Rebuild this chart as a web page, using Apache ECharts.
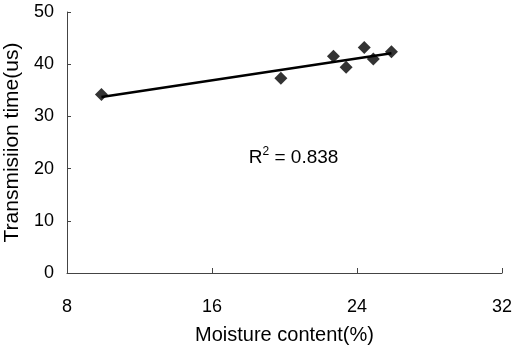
<!DOCTYPE html>
<html>
<head>
<meta charset="utf-8">
<script src="https://cdn.jsdelivr.net/npm/echarts@6/dist/echarts.min.js"></script>
<style>html,body{margin:0;padding:0;background:#fff}#c{width:514px;height:350px}</style>
</head>
<body>
<div id="c"></div>
<script>
const moisture = [9.9, 19.8, 22.7, 23.4, 24.4, 24.9, 25.9];
const transTime = [34.2, 37.3, 41.5, 39.4, 43.2, 41.0, 42.4];
const trendX = [9.9, 25.9];
const trendY = [33.7, 42.1];
const r2Label = '0.838';
const xTitle = 'Moisture content(%)';
const yTitle = 'Transmisiion time(us)';

const font = 'Liberation Sans, Arial, sans-serif';
const chart = echarts.init(document.getElementById('c'), null, {renderer: 'canvas'});
chart.setOption({
  animation: false,
  backgroundColor: '#fff',
  grid: {left: 67, right: 12, top: 12, bottom: 77, containLabel: false, outerBoundsMode: 'none'},
  xAxis: {
    type: 'value', min: 8, max: 32, interval: 8,
    name: xTitle, nameLocation: 'middle', nameGap: 52,
    nameTextStyle: {fontFamily: font, fontSize: 20, color: '#000'},
    axisLine: {show: true, onZero: false, lineStyle: {color: '#444', width: 1}},
    axisTick: {show: true, inside: true, length: 5, lineStyle: {color: '#444'}},
    axisLabel: {fontFamily: font, fontSize: 18, color: '#000', margin: 25},
    splitLine: {show: false}
  },
  yAxis: {
    type: 'value', min: 0, max: 50, interval: 10,
    name: yTitle, nameLocation: 'middle', nameGap: 34,
    nameTextStyle: {fontFamily: font, fontSize: 21, color: '#000'},
    axisLine: {show: true, lineStyle: {color: '#444', width: 1}},
    axisTick: {show: true, inside: true, length: 4, lineStyle: {color: '#444'}},
    axisLabel: {fontFamily: font, fontSize: 18, color: '#000', margin: 13},
    splitLine: {show: false}
  },
  series: [
    {
      type: 'line',
      data: trendX.map((x, i) => [x, trendY[i]]),
      symbol: 'none',
      lineStyle: {color: '#000', width: 2.5},
      z: 2,
      markPoint: {
        symbol: 'circle', symbolSize: 0,
        data: [{coord: [20.5, 22.1], value: r2Label}],
        label: {
          show: true, position: 'inside',
          formatter: '{a|R}{s|2}{a| = ' + r2Label + '}',
          rich: {
            a: {fontFamily: font, fontSize: 19, color: '#000'},
            s: {fontFamily: font, fontSize: 12, color: '#000', verticalAlign: 'top', padding: [0, 0, 11, 0]}
          }
        }
      }
    },
    {
      type: 'scatter',
      data: moisture.map((x, i) => [x, transTime[i]]),
      symbol: 'diamond', symbolSize: 13,
      itemStyle: {color: '#000'},
      z: 3
    }
  ]
});
</script>
</body>
</html>
